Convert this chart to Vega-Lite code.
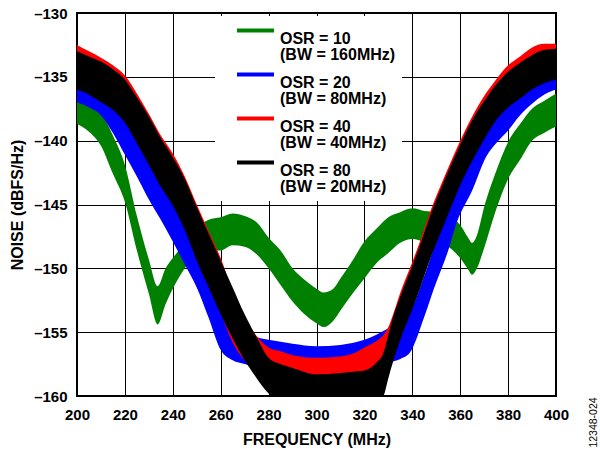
{
  "$schema": "https://vega.github.io/schema/vega-lite/v6.json",
  "width": 479,
  "height": 383,
  "autosize": {"type": "none"},
  "padding": {"left": 77, "top": 13, "right": 44, "bottom": 53},
  "background": "white",
  "config": {
    "view": {"stroke": "#000", "strokeWidth": 2},
    "font": "Liberation Sans"
  },
  "datasets": {
    "bands": [
      {"s": "OSR = 10", "f": 200, "hi": -136.4, "lo": -138.7},
      {"s": "OSR = 10", "f": 205, "hi": -137.0, "lo": -139.3},
      {"s": "OSR = 10", "f": 210, "hi": -137.8, "lo": -140.4},
      {"s": "OSR = 10", "f": 215, "hi": -139.6, "lo": -142.6},
      {"s": "OSR = 10", "f": 220, "hi": -141.9, "lo": -144.8},
      {"s": "OSR = 10", "f": 225, "hi": -145.9, "lo": -148.6},
      {"s": "OSR = 10", "f": 230, "hi": -149.3, "lo": -152.0},
      {"s": "OSR = 10", "f": 233.7, "hi": -151.4, "lo": -154.4},
      {"s": "OSR = 10", "f": 237, "hi": -150.0, "lo": -152.8},
      {"s": "OSR = 10", "f": 240, "hi": -149.2, "lo": -151.6},
      {"s": "OSR = 10", "f": 245, "hi": -148.0, "lo": -150.0},
      {"s": "OSR = 10", "f": 250, "hi": -146.8, "lo": -148.9},
      {"s": "OSR = 10", "f": 255, "hi": -146.2, "lo": -148.6},
      {"s": "OSR = 10", "f": 260, "hi": -146.0, "lo": -148.6},
      {"s": "OSR = 10", "f": 265, "hi": -145.7, "lo": -148.2},
      {"s": "OSR = 10", "f": 270, "hi": -145.9, "lo": -148.3},
      {"s": "OSR = 10", "f": 275, "hi": -146.4, "lo": -148.9},
      {"s": "OSR = 10", "f": 280, "hi": -147.6, "lo": -150.0},
      {"s": "OSR = 10", "f": 285, "hi": -148.6, "lo": -151.3},
      {"s": "OSR = 10", "f": 290, "hi": -150.0, "lo": -152.6},
      {"s": "OSR = 10", "f": 295, "hi": -150.9, "lo": -153.6},
      {"s": "OSR = 10", "f": 300, "hi": -151.6, "lo": -154.3},
      {"s": "OSR = 10", "f": 303, "hi": -151.9, "lo": -154.6},
      {"s": "OSR = 10", "f": 307, "hi": -151.6, "lo": -154.1},
      {"s": "OSR = 10", "f": 310, "hi": -150.8, "lo": -153.3},
      {"s": "OSR = 10", "f": 315, "hi": -149.4, "lo": -152.0},
      {"s": "OSR = 10", "f": 320, "hi": -147.9, "lo": -150.8},
      {"s": "OSR = 10", "f": 325, "hi": -146.9, "lo": -149.6},
      {"s": "OSR = 10", "f": 330, "hi": -146.0, "lo": -148.8},
      {"s": "OSR = 10", "f": 335, "hi": -145.6, "lo": -148.0},
      {"s": "OSR = 10", "f": 340, "hi": -145.3, "lo": -147.7},
      {"s": "OSR = 10", "f": 345, "hi": -145.5, "lo": -147.9},
      {"s": "OSR = 10", "f": 350, "hi": -145.6, "lo": -148.0},
      {"s": "OSR = 10", "f": 355, "hi": -145.9, "lo": -148.3},
      {"s": "OSR = 10", "f": 360, "hi": -146.6, "lo": -149.2},
      {"s": "OSR = 10", "f": 363, "hi": -147.5, "lo": -150.0},
      {"s": "OSR = 10", "f": 365, "hi": -148.0, "lo": -150.5},
      {"s": "OSR = 10", "f": 367, "hi": -147.4, "lo": -150.0},
      {"s": "OSR = 10", "f": 370, "hi": -145.2, "lo": -148.4},
      {"s": "OSR = 10", "f": 375, "hi": -142.4, "lo": -145.4},
      {"s": "OSR = 10", "f": 380, "hi": -140.1, "lo": -143.0},
      {"s": "OSR = 10", "f": 385, "hi": -138.7, "lo": -141.5},
      {"s": "OSR = 10", "f": 390, "hi": -137.5, "lo": -140.0},
      {"s": "OSR = 10", "f": 395, "hi": -136.9, "lo": -139.4},
      {"s": "OSR = 10", "f": 400, "hi": -136.3, "lo": -138.9},

      {"s": "OSR = 20", "f": 200, "hi": -134.6, "lo": -137.0},
      {"s": "OSR = 20", "f": 205, "hi": -135.0, "lo": -137.4},
      {"s": "OSR = 20", "f": 210, "hi": -135.5, "lo": -138.0},
      {"s": "OSR = 20", "f": 215, "hi": -136.6, "lo": -139.4},
      {"s": "OSR = 20", "f": 220, "hi": -138.1, "lo": -141.1},
      {"s": "OSR = 20", "f": 225, "hi": -139.8, "lo": -142.8},
      {"s": "OSR = 20", "f": 230, "hi": -141.4, "lo": -144.6},
      {"s": "OSR = 20", "f": 235, "hi": -143.0, "lo": -146.2},
      {"s": "OSR = 20", "f": 240, "hi": -144.7, "lo": -147.9},
      {"s": "OSR = 20", "f": 245, "hi": -146.5, "lo": -149.7},
      {"s": "OSR = 20", "f": 250, "hi": -148.3, "lo": -151.5},
      {"s": "OSR = 20", "f": 255, "hi": -150.7, "lo": -153.9},
      {"s": "OSR = 20", "f": 260, "hi": -153.2, "lo": -156.4},
      {"s": "OSR = 20", "f": 265, "hi": -154.6, "lo": -157.2},
      {"s": "OSR = 20", "f": 270, "hi": -155.1, "lo": -157.5},
      {"s": "OSR = 20", "f": 275, "hi": -155.4, "lo": -157.8},
      {"s": "OSR = 20", "f": 280, "hi": -155.6, "lo": -158.1},
      {"s": "OSR = 20", "f": 290, "hi": -155.9, "lo": -158.4},
      {"s": "OSR = 20", "f": 300, "hi": -156.1, "lo": -158.6},
      {"s": "OSR = 20", "f": 310, "hi": -156.0, "lo": -158.5},
      {"s": "OSR = 20", "f": 320, "hi": -155.6, "lo": -158.1},
      {"s": "OSR = 20", "f": 325, "hi": -155.2, "lo": -157.8},
      {"s": "OSR = 20", "f": 330, "hi": -154.7, "lo": -157.4},
      {"s": "OSR = 20", "f": 335, "hi": -154.1, "lo": -157.1},
      {"s": "OSR = 20", "f": 339, "hi": -153.4, "lo": -156.6},
      {"s": "OSR = 20", "f": 345, "hi": -150.6, "lo": -153.8},
      {"s": "OSR = 20", "f": 349, "hi": -148.4, "lo": -151.6},
      {"s": "OSR = 20", "f": 355, "hi": -145.5, "lo": -148.6},
      {"s": "OSR = 20", "f": 358.6, "hi": -143.7, "lo": -146.4},
      {"s": "OSR = 20", "f": 365, "hi": -141.3, "lo": -143.9},
      {"s": "OSR = 20", "f": 371, "hi": -138.8, "lo": -141.2},
      {"s": "OSR = 20", "f": 375, "hi": -137.8, "lo": -140.2},
      {"s": "OSR = 20", "f": 380, "hi": -136.7, "lo": -139.2},
      {"s": "OSR = 20", "f": 385, "hi": -135.6, "lo": -138.0},
      {"s": "OSR = 20", "f": 390, "hi": -134.7, "lo": -137.1},
      {"s": "OSR = 20", "f": 395, "hi": -134.0, "lo": -136.4},
      {"s": "OSR = 20", "f": 400, "hi": -133.6, "lo": -136.0},

      {"s": "OSR = 40", "f": 200, "hi": -132.5, "lo": -135.8},
      {"s": "OSR = 40", "f": 205, "hi": -133.0, "lo": -136.2},
      {"s": "OSR = 40", "f": 210, "hi": -133.5, "lo": -136.8},
      {"s": "OSR = 40", "f": 215, "hi": -134.1, "lo": -137.4},
      {"s": "OSR = 40", "f": 220, "hi": -134.9, "lo": -138.4},
      {"s": "OSR = 40", "f": 225, "hi": -136.3, "lo": -140.0},
      {"s": "OSR = 40", "f": 230, "hi": -137.9, "lo": -141.7},
      {"s": "OSR = 40", "f": 235, "hi": -139.6, "lo": -143.4},
      {"s": "OSR = 40", "f": 240, "hi": -141.0, "lo": -144.9},
      {"s": "OSR = 40", "f": 245, "hi": -142.8, "lo": -146.8},
      {"s": "OSR = 40", "f": 250, "hi": -145.0, "lo": -149.1},
      {"s": "OSR = 40", "f": 255, "hi": -147.1, "lo": -151.3},
      {"s": "OSR = 40", "f": 260, "hi": -149.2, "lo": -153.5},
      {"s": "OSR = 40", "f": 265, "hi": -151.8, "lo": -155.8},
      {"s": "OSR = 40", "f": 270, "hi": -153.8, "lo": -157.2},
      {"s": "OSR = 40", "f": 275, "hi": -155.3, "lo": -158.1},
      {"s": "OSR = 40", "f": 280, "hi": -156.2, "lo": -158.6},
      {"s": "OSR = 40", "f": 285, "hi": -156.5, "lo": -159.0},
      {"s": "OSR = 40", "f": 290, "hi": -156.8, "lo": -159.3},
      {"s": "OSR = 40", "f": 300, "hi": -157.0, "lo": -159.5},
      {"s": "OSR = 40", "f": 310, "hi": -156.9, "lo": -159.4},
      {"s": "OSR = 40", "f": 315, "hi": -156.7, "lo": -159.2},
      {"s": "OSR = 40", "f": 320, "hi": -156.2, "lo": -158.8},
      {"s": "OSR = 40", "f": 325, "hi": -155.7, "lo": -158.3},
      {"s": "OSR = 40", "f": 328, "hi": -155.2, "lo": -158.0},
      {"s": "OSR = 40", "f": 330, "hi": -154.6, "lo": -157.6},
      {"s": "OSR = 40", "f": 332, "hi": -153.6, "lo": -157.0},
      {"s": "OSR = 40", "f": 335, "hi": -151.9, "lo": -155.3},
      {"s": "OSR = 40", "f": 340, "hi": -149.5, "lo": -152.9},
      {"s": "OSR = 40", "f": 343, "hi": -148.0, "lo": -151.4},
      {"s": "OSR = 40", "f": 348, "hi": -145.3, "lo": -148.7},
      {"s": "OSR = 40", "f": 353, "hi": -143.0, "lo": -146.4},
      {"s": "OSR = 40", "f": 360, "hi": -140.0, "lo": -143.2},
      {"s": "OSR = 40", "f": 365, "hi": -138.1, "lo": -141.4},
      {"s": "OSR = 40", "f": 370, "hi": -136.5, "lo": -139.6},
      {"s": "OSR = 40", "f": 375, "hi": -135.2, "lo": -138.0},
      {"s": "OSR = 40", "f": 380, "hi": -134.1, "lo": -137.0},
      {"s": "OSR = 40", "f": 385, "hi": -133.4, "lo": -136.3},
      {"s": "OSR = 40", "f": 390, "hi": -132.7, "lo": -135.7},
      {"s": "OSR = 40", "f": 395, "hi": -132.4, "lo": -135.2},
      {"s": "OSR = 40", "f": 400, "hi": -132.4, "lo": -135.0},

      {"s": "OSR = 80", "f": 200, "hi": -133.0, "lo": -136.0},
      {"s": "OSR = 80", "f": 205, "hi": -133.4, "lo": -136.4},
      {"s": "OSR = 80", "f": 210, "hi": -133.8, "lo": -137.0},
      {"s": "OSR = 80", "f": 215, "hi": -134.4, "lo": -137.6},
      {"s": "OSR = 80", "f": 220, "hi": -135.2, "lo": -138.6},
      {"s": "OSR = 80", "f": 225, "hi": -136.6, "lo": -140.2},
      {"s": "OSR = 80", "f": 230, "hi": -138.1, "lo": -141.9},
      {"s": "OSR = 80", "f": 235, "hi": -139.8, "lo": -143.6},
      {"s": "OSR = 80", "f": 240, "hi": -141.3, "lo": -145.1},
      {"s": "OSR = 80", "f": 245, "hi": -143.0, "lo": -147.0},
      {"s": "OSR = 80", "f": 250, "hi": -145.2, "lo": -149.4},
      {"s": "OSR = 80", "f": 255, "hi": -147.3, "lo": -151.5},
      {"s": "OSR = 80", "f": 260, "hi": -149.4, "lo": -153.6},
      {"s": "OSR = 80", "f": 265, "hi": -151.5, "lo": -155.5},
      {"s": "OSR = 80", "f": 270, "hi": -153.6, "lo": -157.2},
      {"s": "OSR = 80", "f": 275, "hi": -155.4, "lo": -158.6},
      {"s": "OSR = 80", "f": 280, "hi": -157.0, "lo": -159.8},
      {"s": "OSR = 80", "f": 285, "hi": -157.5, "lo": -160.5},
      {"s": "OSR = 80", "f": 290, "hi": -157.8, "lo": -161.0},
      {"s": "OSR = 80", "f": 300, "hi": -158.3, "lo": -161.0},
      {"s": "OSR = 80", "f": 310, "hi": -158.2, "lo": -161.0},
      {"s": "OSR = 80", "f": 315, "hi": -158.1, "lo": -161.0},
      {"s": "OSR = 80", "f": 320, "hi": -158.0, "lo": -161.0},
      {"s": "OSR = 80", "f": 325, "hi": -157.4, "lo": -160.6},
      {"s": "OSR = 80", "f": 328, "hi": -156.6, "lo": -160.0},
      {"s": "OSR = 80", "f": 330, "hi": -155.2, "lo": -158.6},
      {"s": "OSR = 80", "f": 332, "hi": -153.8, "lo": -157.3},
      {"s": "OSR = 80", "f": 335, "hi": -152.2, "lo": -155.6},
      {"s": "OSR = 80", "f": 340, "hi": -149.8, "lo": -153.2},
      {"s": "OSR = 80", "f": 343, "hi": -148.3, "lo": -151.7},
      {"s": "OSR = 80", "f": 348, "hi": -145.6, "lo": -149.0},
      {"s": "OSR = 80", "f": 353, "hi": -143.3, "lo": -146.7},
      {"s": "OSR = 80", "f": 360, "hi": -140.3, "lo": -143.5},
      {"s": "OSR = 80", "f": 365, "hi": -138.4, "lo": -141.6},
      {"s": "OSR = 80", "f": 370, "hi": -136.9, "lo": -139.9},
      {"s": "OSR = 80", "f": 375, "hi": -135.6, "lo": -138.4},
      {"s": "OSR = 80", "f": 380, "hi": -134.6, "lo": -137.4},
      {"s": "OSR = 80", "f": 385, "hi": -133.9, "lo": -136.7},
      {"s": "OSR = 80", "f": 390, "hi": -133.3, "lo": -136.0},
      {"s": "OSR = 80", "f": 395, "hi": -132.9, "lo": -135.5},
      {"s": "OSR = 80", "f": 400, "hi": -132.8, "lo": -135.2}
    ],
    "note": [{"v": -145}]
  },
  "layer": [
    {
      "data": {"name": "bands"},
      "mark": {"type": "area", "clip": true, "interpolate": "monotone"},
      "encoding": {
        "x": {
          "field": "f", "type": "quantitative",
          "scale": {"domain": [200, 400], "nice": false, "zero": false},
          "axis": {
            "values": [200, 220, 240, 260, 280, 300, 320, 340, 360, 380, 400],
            "title": "FREQUENCY (MHz)",
            "titleFontSize": 16, "titleFontWeight": "bold", "titleColor": "#000",
            "titleY": 43, "titleBaseline": "middle",
            "labelFontSize": 15, "labelFontWeight": "bold", "labelColor": "#000",
            "labelPadding": 11, "labelFlush": false,
            "ticks": false, "tickSize": 0, "domain": false,
            "grid": true, "gridColor": "#000", "gridWidth": 1, "gridOpacity": 1
          }
        },
        "y": {
          "field": "hi", "type": "quantitative",
          "scale": {"domain": [-160, -130], "nice": false, "zero": false},
          "axis": {
            "values": [-160, -155, -150, -145, -140, -135, -130],
            "labelExpr": "datum.value < 0 ? '–' + format(abs(datum.value), 'd') : format(datum.value, 'd')",
            "title": "NOISE (dBFS/Hz)",
            "titleFontSize": 16, "titleFontWeight": "bold", "titleColor": "#000",
            "titleX": -60, "titleY": 191.5, "titleAngle": 270,
            "titleBaseline": "middle", "titleAlign": "center",
            "labelFontSize": 15, "labelFontWeight": "bold", "labelColor": "#000",
            "labelPadding": 10, "labelFlush": false,
            "ticks": false, "tickSize": 0, "domain": false,
            "grid": true, "gridColor": "#000", "gridWidth": 1, "gridOpacity": 1
          }
        },
        "y2": {"field": "lo"},
        "color": {
          "field": "s", "type": "nominal",
          "scale": {
            "domain": ["OSR = 10", "OSR = 20", "OSR = 40", "OSR = 80"],
            "range": ["#008000", "#0000ff", "#ff0000", "#000000"]
          },
          "legend": {
            "orient": "none", "legendX": 138, "legendY": 3,
            "title": null, "fillColor": "#ffffff", "padding": 6,
            "symbolType": "stroke", "symbolSize": 1369, "symbolStrokeWidth": 4,
            "symbolOffset": 14, "labelOffset": 4, "rowPadding": 3,
            "clipHeight": 33,
            "labelFontSize": 16, "labelFontWeight": "bold", "labelColor": "#000",
            "labelFont": "Liberation Sans", "labelLimit": 300,
            "labelExpr": "datum.label == 'OSR = 10' ? ['OSR = 10', '(BW = 160MHz)     '] : datum.label == 'OSR = 20' ? ['OSR = 20', '(BW = 80MHz)'] : datum.label == 'OSR = 40' ? ['OSR = 40', '(BW = 40MHz)'] : ['OSR = 80', '(BW = 20MHz)']",
            "encode": {
              "symbols": {"update": {"stroke": {"scale": "color", "field": "value"}, "strokeCap": {"value": "butt"}, "y": {"value": 8.5}}},
              "labels": {"update": {"lineHeight": {"value": 16}}}
            }
          }
        }
      }
    },
    {
      "data": {"name": "note"},
      "mark": {"type": "point", "opacity": 0},
      "encoding": {
        "y": {
          "field": "v", "type": "quantitative",
          "scale": {"domain": [-160, -130], "nice": false, "zero": false},
          "axis": {
            "orient": "right", "title": "12348-024",
            "labels": false, "ticks": false, "domain": false, "grid": false,
            "titleFontSize": 10.5, "titleFontWeight": "normal", "titleColor": "#000",
            "titleX": 37, "titleY": 409, "titleAngle": 270,
            "titleAlign": "center", "titleBaseline": "middle"
          }
        }
      }
    }
  ],
  "resolve": {"scale": {"y": "independent"}, "axis": {"y": "independent"}}
}
